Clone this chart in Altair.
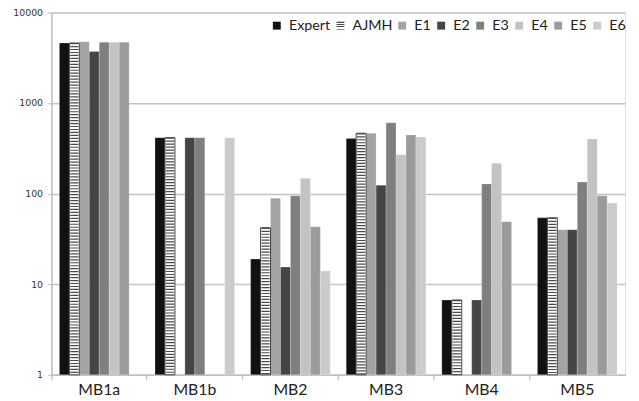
import math
import altair as alt
import pandas as pd

groups = ["MB1a", "MB1b", "MB2", "MB3", "MB4", "MB5"]
series_names = ["Expert", "AJMH", "E1", "E2", "E3", "E4", "E5", "E6"]
expert = [4600, 415, 19, 405, 6.7, 54]
ajmh = [4600, 415, 42, 464, 6.7, 54]
e1 = [4750, None, 89, 464, None, 40]
e2 = [3700, 415, 15.5, 124, 6.7, 40]
e3 = [4700, 415, 95, 605, 128, 134]
e4 = [4700, None, 148, 269, 216, 400]
e5 = [4700, None, 43, 445, 49, 95]
e6 = [None, 415, 14, 423, None, 79]
colors = ["#111111", "#ffffff", "#a3a3a3", "#454545", "#7f7f7f", "#c3c3c3", "#9b9b9b", "#cbcbcb"]
y_ticks = [1, 10, 100, 1000, 10000]

values = [expert, ajmh, e1, e2, e3, e4, e5, e6]
rows = []
for s, vals in zip(series_names, values):
    for g, v in zip(groups, vals):
        if v is not None:
            rows.append({"group": g, "series": s, "value": v})
df = pd.DataFrame(rows)

W, H = 581, 367
STRIPE_DARK = "#4a4a4a"
FONT = "Lato"

# striped legend swatch for AJMH: dark edge lines with horizontal stripes inside
swatch_bands = [(0, 1, STRIPE_DARK), (1, 2.5, "#ffffff"), (2.5, 3.5, STRIPE_DARK),
                (3.5, 4.5, "#ffffff"), (4.5, 5.5, STRIPE_DARK), (5.5, 7, "#ffffff"),
                (7, 8, STRIPE_DARK)]
stop_parts = []
for a, b, c in swatch_bands:
    stop_parts.append("{offset: %g, color: '%s'}" % (a / 8, c))
    stop_parts.append("{offset: %g, color: '%s'}" % (b / 8, c))
swatch_expr = "{gradient: 'linear', x1: 0, y1: 0, x2: 0, y2: 1, stops: [" + ", ".join(stop_parts) + "]}"
legend_range = [({"expr": swatch_expr} if s == "AJMH" else c) for s, c in zip(series_names, colors)]

x_enc = alt.X(
    "group:N",
    scale=alt.Scale(domain=groups, paddingInner=0, paddingOuter=0),
    axis=alt.Axis(
        title=None, labelAngle=0, labelFontSize=16, labelColor="#222222", labelFont=FONT,
        bandPosition=0, domainColor="#bfbfbf", domainWidth=1.5, tickColor="#bfbfbf",
        tickWidth=1.2, tickSize=5, labelPadding=2,
    ),
)
y_enc = alt.Y(
    "value:Q",
    stack=None,
    scale=alt.Scale(type="log", domain=[1, 10000]),
    axis=alt.Axis(
        title=None, values=y_ticks, format="d", labelFontSize=9.5, labelFont="DejaVu Sans",
        labelColor="#333333", gridColor="#c4c4c4", gridWidth=1.5, domainColor="#bfbfbf",
        domainWidth=1.5, tickColor="#bfbfbf", tickSize=4, labelPadding=5,
    ),
)
xoff = alt.XOffset("series:N", scale=alt.Scale(domain=series_names, paddingInner=0, paddingOuter=0.8))


def make_chart(use_gradient_range, err=""):
    legend = alt.Legend(
        title=None, orient="none", legendX=221, legendY=6, direction="horizontal", columns=8,
        symbolType="square", symbolSize=64, symbolStrokeWidth=0, labelFontSize=14.5,
        labelFont=FONT, labelColor="#222222", labelOffset=5, columnPadding=2.5,
    )
    base = alt.Chart(df)
    main = base.transform_filter("datum.series !== 'AJMH'").mark_bar(
        stroke="#ffffff", strokeOpacity=0.35, strokeWidth=0.6
    ).encode(
        x=x_enc,
        xOffset=xoff,
        y=y_enc,
        color=alt.Color(
            "series:N",
            scale=alt.Scale(domain=series_names, range=legend_range if use_gradient_range else colors),
            legend=legend,
        ),
    )
    aj_src = base.transform_filter("datum.series === 'AJMH'")
    aj = aj_src.mark_bar(stroke="#404040", strokeWidth=1, fill="#ffffff").encode(
        x=x_enc, xOffset=xoff, y=y_enc,
    )
    aj_stripes = aj_src.mark_rule(
        color=STRIPE_DARK, strokeWidth=8.4, strokeDash=[1.2, 1.8], strokeCap="butt"
    ).encode(
        x=x_enc, xOffset=xoff, y=y_enc, y2=alt.datum(1),
    )
    pad = {"left": 44, "top": 2, "right": 6, "bottom": 22}
    props = dict(width=W, height=H, autosize=alt.AutoSizeParams(type="none"), padding=pad)
    if err:
        lines = [err[i:i + 140] for i in range(0, min(len(err), 840), 140)]
        props["title"] = alt.Title(lines, fontSize=8, anchor="start", offset=2)
        pad["top"] = 70
    return alt.layer(main, aj, aj_stripes).properties(**props).configure_view(stroke=None).configure(font=FONT)


try:
    chart = make_chart(True)
    chart.save("out.html", embed_options={"renderer": "svg", "actions": False})
except Exception as exc:
    chart = make_chart(False, " ".join(str(exc).split())[:800])
    chart.save("out.html", embed_options={"renderer": "svg", "actions": False})
